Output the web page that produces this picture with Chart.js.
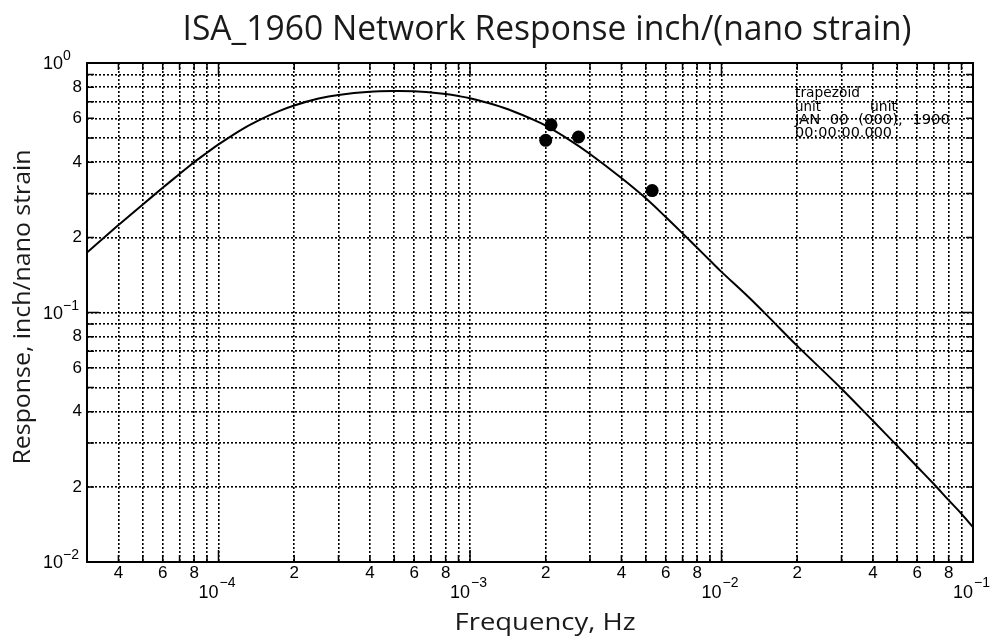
<!DOCTYPE html>
<html>
<head>
<meta charset="utf-8">
<script src="https://cdn.jsdelivr.net/npm/chart.js@4.4.1/dist/chart.umd.min.js"></script>
<style>
  html, body { margin: 0; padding: 0; background: #fff; }
  canvas { display: block; }
</style>
</head>
<body>
<canvas id="chart" width="995" height="642"></canvas>
<script>
// response curve (Hz -> inch/nano strain)
const curveFreq = [
  3e-5, 4e-5, 5e-5, 6e-5, 7e-5, 8e-5, 9e-5,
  1e-4, 1.25e-4, 1.5e-4, 1.75e-4, 2e-4, 2.5e-4, 3e-4, 4e-4, 5e-4, 6e-4, 7e-4, 8e-4, 9e-4,
  1e-3, 1.25e-3, 1.5e-3, 1.75e-3, 2e-3, 2.5e-3, 3e-3, 4e-3, 5e-3, 6e-3, 7e-3, 8e-3, 9e-3,
  1e-2, 1.25e-2, 1.5e-2, 2e-2, 3e-2, 4e-2, 5e-2, 6e-2, 7e-2, 8e-2, 9e-2,
  1e-1
];
const curveResp = [
  0.174, 0.224, 0.271, 0.316, 0.359, 0.400, 0.437,
  0.472, 0.545, 0.600, 0.643, 0.676, 0.720, 0.745, 0.767, 0.772, 0.770, 0.762, 0.751, 0.737,
  0.722, 0.680, 0.638, 0.598, 0.561, 0.490, 0.432, 0.346, 0.287, 0.2414, 0.2076, 0.1818, 0.1616,
  0.1455, 0.118, 0.0985, 0.0735, 0.0495, 0.0368, 0.0292, 0.0241, 0.0205, 0.0177, 0.0156,
  0.0138
];

// measured points
const dotFreq = [2.0e-3, 2.1e-3, 2.7e-3, 5.3e-3];
const dotResp = [0.49, 0.565, 0.505, 0.308];

// grid / tick positions
const xTickVals = [
  3e-5, 4e-5, 5e-5, 6e-5, 7e-5, 8e-5, 9e-5,
  1e-4, 2e-4, 3e-4, 4e-4, 5e-4, 6e-4, 7e-4, 8e-4, 9e-4,
  1e-3, 2e-3, 3e-3, 4e-3, 5e-3, 6e-3, 7e-3, 8e-3, 9e-3,
  1e-2, 2e-2, 3e-2, 4e-2, 5e-2, 6e-2, 7e-2, 8e-2, 9e-2,
  1e-1
];
const yTickVals = [
  1e-2, 2e-2, 3e-2, 4e-2, 5e-2, 6e-2, 7e-2, 8e-2, 9e-2,
  1e-1, 2e-1, 3e-1, 4e-1, 5e-1, 6e-1, 7e-1, 8e-1, 9e-1,
  1
];
const xDecades = [1e-4, 1e-3, 1e-2, 1e-1];
const yDecades = [1e-2, 1e-1, 1];
const labelledDigits = [2, 4, 6, 8];

const TITLE = 'ISA_1960 Network Response inch/(nano strain)';
const X_TITLE = 'Frequency, Hz';
const Y_TITLE = 'Response, inch/nano strain';

const TICK_FONT = '"Liberation Sans", Arial, sans-serif';
const TITLE_FONT = '"Open Sans", "Noto Sans", sans-serif';
const INFO_FONT = '"DejaVu Sans", sans-serif';

function expOf(v) {
  return Math.floor(Math.log10(v) + 1e-9);
}
function significand(v) {
  return Math.round(v / Math.pow(10, expOf(v)));
}
function isDecade(v) {
  return significand(v) === 1;
}
function digitLabel(v) {
  const s = significand(v);
  return labelledDigits.includes(s) ? String(s) : '';
}
function expText(v) {
  const e = expOf(v);
  return e < 0 ? '\u2212' + (-e) : String(e);
}

// draw text squeezed/stretched to a given width (x is the centre, or left edge if left=true)
function fitText(ctx, str, x, y, font, width, rot, left) {
  ctx.save();
  ctx.font = font;
  const w = ctx.measureText(str).width;
  ctx.translate(x, y);
  if (rot) ctx.rotate(rot);
  ctx.scale(width / w, 1);
  ctx.textAlign = left ? 'left' : 'center';
  ctx.textBaseline = 'alphabetic';
  ctx.fillText(str, 0, 0);
  ctx.restore();
}

const decorations = {
  id: 'decorations',
  afterDraw(chart) {
    const { ctx, chartArea: a, scales: { x, y } } = chart;
    ctx.save();
    ctx.setLineDash([]);
    ctx.strokeStyle = '#000';

    // inward tick marks on all four sides
    ctx.lineWidth = 1.5;
    ctx.beginPath();
    xTickVals.forEach(v => {
      const px = x.getPixelForValue(v);
      const len = isDecade(v) ? 12 : 7;
      ctx.moveTo(px, a.bottom); ctx.lineTo(px, a.bottom - len);
      ctx.moveTo(px, a.top); ctx.lineTo(px, a.top + len);
    });
    yTickVals.forEach(v => {
      const py = y.getPixelForValue(v);
      const len = isDecade(v) ? 12 : 7;
      ctx.moveTo(a.left, py); ctx.lineTo(a.left + len, py);
      ctx.moveTo(a.right, py); ctx.lineTo(a.right - len, py);
    });
    ctx.stroke();

    ctx.lineWidth = 2;
    ctx.strokeRect(a.left, a.top, a.right - a.left, a.bottom - a.top);

    // decade labels 10^n
    ctx.fillStyle = '#000';
    ctx.textBaseline = 'alphabetic';
    xDecades.forEach(v => {
      const px = x.getPixelForValue(v);
      ctx.font = '18px ' + TICK_FONT;
      ctx.textAlign = 'right';
      ctx.fillText('10', px, a.bottom + 36);
      ctx.font = '14px ' + TICK_FONT;
      ctx.textAlign = 'left';
      ctx.fillText(expText(v), px + 1, a.bottom + 25);
    });
    yDecades.forEach(v => {
      const py = y.getPixelForValue(v);
      ctx.font = '18px ' + TICK_FONT;
      ctx.textAlign = 'right';
      ctx.fillText('10', a.left - 24, py + 6);
      ctx.font = '14px ' + TICK_FONT;
      ctx.textAlign = 'left';
      ctx.fillText(expText(v), a.left - 24, py - 3);
    });

    // info block, top right
    const f = '14px ' + INFO_FONT;
    fitText(ctx, 'trapezoid', 795, 97, f, 65, 0, true);
    fitText(ctx, 'unit', 795, 111, f, 26, 0, true);
    fitText(ctx, 'unit', 870, 111, f, 27, 0, true);
    fitText(ctx, 'JAN  00  (000),  1900', 795, 124, f, 155, 0, true);
    fitText(ctx, '00:00:00.000', 795, 137, f, 97, 0, true);

    // titles
    ctx.fillStyle = '#1a1a1a';
    fitText(ctx, TITLE, 547, 40, '34px ' + TITLE_FONT, 729, 0);
    fitText(ctx, X_TITLE, 545, 630, '24px ' + TITLE_FONT, 181, 0);
    fitText(ctx, Y_TITLE, 30, 307, '24px ' + TITLE_FONT, 315, -Math.PI / 2);
    ctx.restore();
  }
};

const curve = curveFreq.map((f, i) => ({ x: f, y: curveResp[i] }));
const dots = dotFreq.map((f, i) => ({ x: f, y: dotResp[i] }));

new Chart(document.getElementById('chart'), {
  type: 'scatter',
  data: {
    datasets: [
      {
        data: curve,
        showLine: true,
        borderColor: '#000',
        borderWidth: 2,
        pointRadius: 0,
        tension: 0.35
      },
      {
        data: dots,
        pointRadius: 6.5,
        backgroundColor: '#000',
        borderColor: '#000',
        borderWidth: 0
      }
    ]
  },
  options: {
    responsive: false,
    animation: false,
    devicePixelRatio: 1,
    layout: { padding: { top: 63, right: 22, left: 0, bottom: 0 } },
    plugins: {
      legend: { display: false },
      tooltip: { enabled: false }
    },
    scales: {
      x: {
        type: 'logarithmic',
        min: 3e-5,
        max: 1e-1,
        afterBuildTicks: s => { s.ticks = xTickVals.map(v => ({ value: v })); },
        afterFit: s => { s.height = 80; },
        grid: { color: '#000', lineWidth: 1.6, drawTicks: false },
        border: { display: false, dash: [2, 2] },
        ticks: {
          autoSkip: false,
          maxRotation: 0,
          padding: 1,
          color: '#000',
          font: { family: TICK_FONT, size: 17 },
          callback: v => digitLabel(v)
        }
      },
      y: {
        type: 'logarithmic',
        min: 0.01,
        max: 1,
        afterBuildTicks: s => { s.ticks = yTickVals.map(v => ({ value: v })); },
        afterFit: s => { s.width = 87; },
        grid: { color: '#000', lineWidth: 1.6, drawTicks: false },
        border: { display: false, dash: [2, 2] },
        ticks: {
          autoSkip: false,
          padding: 5,
          color: '#000',
          font: { family: TICK_FONT, size: 17 },
          callback: v => digitLabel(v)
        }
      }
    }
  },
  plugins: [decorations]
});
</script>
</body>
</html>
